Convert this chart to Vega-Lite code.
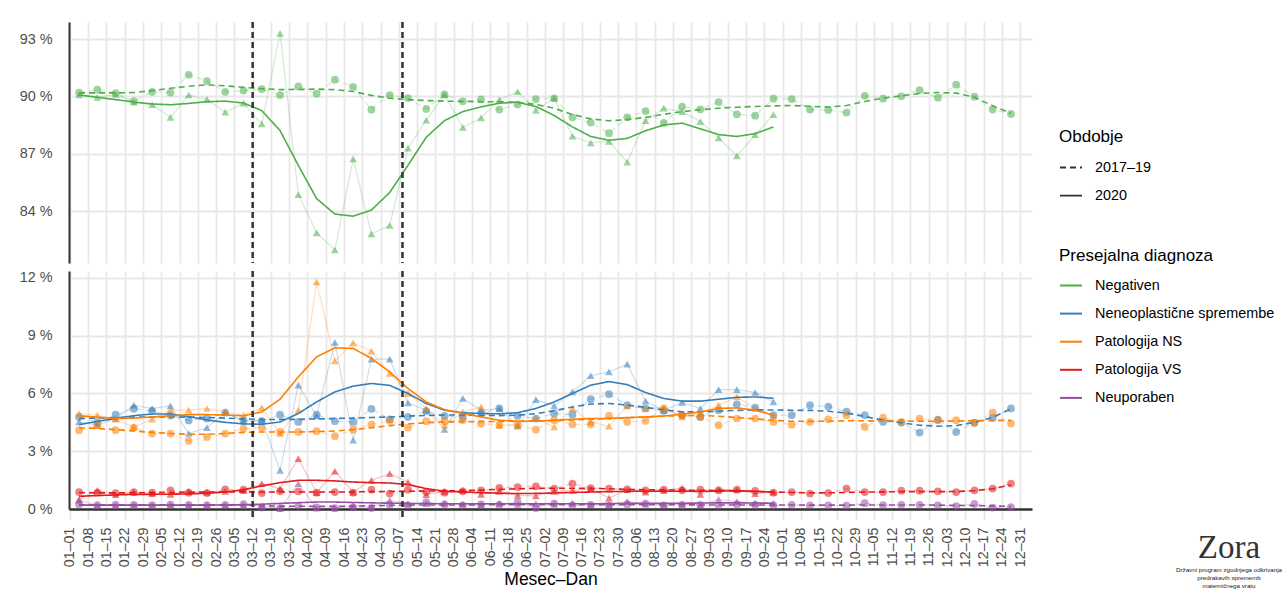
{
"$schema": "https://vega.github.io/schema/vega-lite/v6.json",
"background": "white",
"padding": {"left": 17, "top": 20, "right": 0, "bottom": 0},
"spacing": 8,
"bounds": "flush",
"title": {"text": "Zora", "subtitle": ["Državni program zgodnjega odkrivanja", "predrakavih sprememb", "materničnega vratu"], "orient": "bottom", "anchor": "start", "frame": "group", "align": "center", "dx": 1160, "offset": -56, "font": "Liberation Serif", "fontSize": 33, "fontWeight": "normal", "color": "#333333", "subtitleFont": "Liberation Sans", "subtitleFontSize": 6.2, "subtitleColor": "#222222", "subtitlePadding": 2, "subtitleLineHeight": 8},
"datasets": {"zora": [
{"c":"Negativen","p":"2017–19","w":0.5,"v":90.2,"s":90.18},
{"c":"Negativen","p":"2017–19","w":1.5,"v":90.35,"s":90.18},
{"c":"Negativen","p":"2017–19","w":2.5,"v":90.17,"s":90.18},
{"c":"Negativen","p":"2017–19","w":3.5,"v":89.75,"s":90.2},
{"c":"Negativen","p":"2017–19","w":4.5,"v":90.24,"s":90.3},
{"c":"Negativen","p":"2017–19","w":5.5,"v":90.2,"s":90.42},
{"c":"Negativen","p":"2017–19","w":6.5,"v":91.13,"s":90.53},
{"c":"Negativen","p":"2017–19","w":7.5,"v":90.8,"s":90.6},
{"c":"Negativen","p":"2017–19","w":8.5,"v":90.24,"s":90.55},
{"c":"Negativen","p":"2017–19","w":9.5,"v":90.3,"s":90.47},
{"c":"Negativen","p":"2017–19","w":10.5,"v":90.38,"s":90.4},
{"c":"Negativen","p":"2017–19","w":11.5,"v":90.07,"s":90.35},
{"c":"Negativen","p":"2017–19","w":12.5,"v":90.52,"s":90.36},
{"c":"Negativen","p":"2017–19","w":13.5,"v":90.14,"s":90.38},
{"c":"Negativen","p":"2017–19","w":14.5,"v":90.87,"s":90.35},
{"c":"Negativen","p":"2017–19","w":15.5,"v":90.5,"s":90.25},
{"c":"Negativen","p":"2017–19","w":16.5,"v":89.3,"s":90.05},
{"c":"Negativen","p":"2017–19","w":17.5,"v":90.07,"s":89.9},
{"c":"Negativen","p":"2017–19","w":18.5,"v":89.91,"s":89.83},
{"c":"Negativen","p":"2017–19","w":19.5,"v":89.34,"s":89.78},
{"c":"Negativen","p":"2017–19","w":20.5,"v":90.1,"s":89.75},
{"c":"Negativen","p":"2017–19","w":21.5,"v":89.74,"s":89.73},
{"c":"Negativen","p":"2017–19","w":22.5,"v":89.84,"s":89.72},
{"c":"Negativen","p":"2017–19","w":23.5,"v":89.31,"s":89.72},
{"c":"Negativen","p":"2017–19","w":24.5,"v":89.57,"s":89.69},
{"c":"Negativen","p":"2017–19","w":25.5,"v":89.86,"s":89.58},
{"c":"Negativen","p":"2017–19","w":26.5,"v":89.9,"s":89.38},
{"c":"Negativen","p":"2017–19","w":27.5,"v":88.9,"s":89.05},
{"c":"Negativen","p":"2017–19","w":28.5,"v":88.63,"s":88.82},
{"c":"Negativen","p":"2017–19","w":29.5,"v":88.07,"s":88.72},
{"c":"Negativen","p":"2017–19","w":30.5,"v":88.9,"s":88.78},
{"c":"Negativen","p":"2017–19","w":31.5,"v":89.23,"s":88.9},
{"c":"Negativen","p":"2017–19","w":32.5,"v":88.61,"s":89.06},
{"c":"Negativen","p":"2017–19","w":33.5,"v":89.46,"s":89.2},
{"c":"Negativen","p":"2017–19","w":34.5,"v":89.32,"s":89.3},
{"c":"Negativen","p":"2017–19","w":35.5,"v":89.7,"s":89.38},
{"c":"Negativen","p":"2017–19","w":36.5,"v":89.06,"s":89.43},
{"c":"Negativen","p":"2017–19","w":37.5,"v":88.99,"s":89.47},
{"c":"Negativen","p":"2017–19","w":38.5,"v":89.88,"s":89.5},
{"c":"Negativen","p":"2017–19","w":39.5,"v":89.86,"s":89.52},
{"c":"Negativen","p":"2017–19","w":40.5,"v":89.31,"s":89.48},
{"c":"Negativen","p":"2017–19","w":41.5,"v":89.29,"s":89.44},
{"c":"Negativen","p":"2017–19","w":42.5,"v":89.15,"s":89.52},
{"c":"Negativen","p":"2017–19","w":43.5,"v":90.03,"s":89.73},
{"c":"Negativen","p":"2017–19","w":44.5,"v":89.88,"s":89.91},
{"c":"Negativen","p":"2017–19","w":45.5,"v":90.0,"s":90.03},
{"c":"Negativen","p":"2017–19","w":46.5,"v":90.33,"s":90.15},
{"c":"Negativen","p":"2017–19","w":47.5,"v":89.93,"s":90.2},
{"c":"Negativen","p":"2017–19","w":48.5,"v":90.61,"s":90.17},
{"c":"Negativen","p":"2017–19","w":49.5,"v":89.98,"s":89.95},
{"c":"Negativen","p":"2017–19","w":50.5,"v":89.31,"s":89.51},
{"c":"Negativen","p":"2017–19","w":51.5,"v":89.08,"s":89.11},
{"c":"Negativen","p":"2020","w":0.5,"v":90.07,"s":90.07},
{"c":"Negativen","p":"2020","w":1.5,"v":89.95,"s":89.95},
{"c":"Negativen","p":"2020","w":2.5,"v":90.1,"s":89.83},
{"c":"Negativen","p":"2020","w":3.5,"v":89.69,"s":89.7},
{"c":"Negativen","p":"2020","w":4.5,"v":89.57,"s":89.6},
{"c":"Negativen","p":"2020","w":5.5,"v":88.9,"s":89.56},
{"c":"Negativen","p":"2020","w":6.5,"v":90.07,"s":89.63},
{"c":"Negativen","p":"2020","w":7.5,"v":89.84,"s":89.72},
{"c":"Negativen","p":"2020","w":8.5,"v":89.17,"s":89.75},
{"c":"Negativen","p":"2020","w":9.5,"v":89.64,"s":89.65},
{"c":"Negativen","p":"2020","w":10.5,"v":88.56,"s":89.25},
{"c":"Negativen","p":"2020","w":11.5,"v":93.3,"s":88.21},
{"c":"Negativen","p":"2020","w":12.5,"v":84.86,"s":86.39},
{"c":"Negativen","p":"2020","w":13.5,"v":82.86,"s":84.65},
{"c":"Negativen","p":"2020","w":14.5,"v":81.96,"s":83.84},
{"c":"Negativen","p":"2020","w":15.5,"v":86.73,"s":83.73},
{"c":"Negativen","p":"2020","w":16.5,"v":82.8,"s":84.05},
{"c":"Negativen","p":"2020","w":17.5,"v":83.25,"s":84.97},
{"c":"Negativen","p":"2020","w":18.5,"v":87.29,"s":86.39},
{"c":"Negativen","p":"2020","w":19.5,"v":88.75,"s":87.86},
{"c":"Negativen","p":"2020","w":20.5,"v":90.09,"s":88.73},
{"c":"Negativen","p":"2020","w":21.5,"v":88.37,"s":89.2},
{"c":"Negativen","p":"2020","w":22.5,"v":88.87,"s":89.45},
{"c":"Negativen","p":"2020","w":23.5,"v":89.83,"s":89.64},
{"c":"Negativen","p":"2020","w":24.5,"v":90.24,"s":89.69},
{"c":"Negativen","p":"2020","w":25.5,"v":89.27,"s":89.47},
{"c":"Negativen","p":"2020","w":26.5,"v":89.9,"s":89.0},
{"c":"Negativen","p":"2020","w":27.5,"v":87.92,"s":88.4},
{"c":"Negativen","p":"2020","w":28.5,"v":87.57,"s":87.9},
{"c":"Negativen","p":"2020","w":29.5,"v":87.64,"s":87.7},
{"c":"Negativen","p":"2020","w":30.5,"v":86.56,"s":87.8},
{"c":"Negativen","p":"2020","w":31.5,"v":88.73,"s":88.2},
{"c":"Negativen","p":"2020","w":32.5,"v":89.38,"s":88.5},
{"c":"Negativen","p":"2020","w":33.5,"v":89.2,"s":88.6},
{"c":"Negativen","p":"2020","w":34.5,"v":88.68,"s":88.3},
{"c":"Negativen","p":"2020","w":35.5,"v":87.83,"s":88.0},
{"c":"Negativen","p":"2020","w":36.5,"v":86.88,"s":87.9},
{"c":"Negativen","p":"2020","w":37.5,"v":87.99,"s":88.05},
{"c":"Negativen","p":"2020","w":38.5,"v":89.04,"s":88.4},
{"c":"Neneoplastične spremembe","p":"2017–19","w":0.5,"v":4.78,"s":4.7},
{"c":"Neneoplastične spremembe","p":"2017–19","w":1.5,"v":4.5,"s":4.72},
{"c":"Neneoplastične spremembe","p":"2017–19","w":2.5,"v":4.9,"s":4.75},
{"c":"Neneoplastične spremembe","p":"2017–19","w":3.5,"v":5.2,"s":4.77},
{"c":"Neneoplastične spremembe","p":"2017–19","w":4.5,"v":5.1,"s":4.78},
{"c":"Neneoplastične spremembe","p":"2017–19","w":5.5,"v":4.85,"s":4.78},
{"c":"Neneoplastične spremembe","p":"2017–19","w":6.5,"v":4.6,"s":4.77},
{"c":"Neneoplastične spremembe","p":"2017–19","w":7.5,"v":4.7,"s":4.75},
{"c":"Neneoplastične spremembe","p":"2017–19","w":8.5,"v":5.0,"s":4.72},
{"c":"Neneoplastične spremembe","p":"2017–19","w":9.5,"v":4.6,"s":4.68},
{"c":"Neneoplastične spremembe","p":"2017–19","w":10.5,"v":4.56,"s":4.65},
{"c":"Neneoplastične spremembe","p":"2017–19","w":11.5,"v":4.9,"s":4.65},
{"c":"Neneoplastične spremembe","p":"2017–19","w":12.5,"v":4.52,"s":4.66},
{"c":"Neneoplastične spremembe","p":"2017–19","w":13.5,"v":4.9,"s":4.68},
{"c":"Neneoplastične spremembe","p":"2017–19","w":14.5,"v":4.56,"s":4.7},
{"c":"Neneoplastične spremembe","p":"2017–19","w":15.5,"v":4.52,"s":4.72},
{"c":"Neneoplastične spremembe","p":"2017–19","w":16.5,"v":5.2,"s":4.75},
{"c":"Neneoplastične spremembe","p":"2017–19","w":17.5,"v":4.66,"s":4.78},
{"c":"Neneoplastične spremembe","p":"2017–19","w":18.5,"v":4.78,"s":4.82},
{"c":"Neneoplastične spremembe","p":"2017–19","w":19.5,"v":5.08,"s":4.86},
{"c":"Neneoplastične spremembe","p":"2017–19","w":20.5,"v":4.83,"s":4.88},
{"c":"Neneoplastične spremembe","p":"2017–19","w":21.5,"v":4.78,"s":4.88},
{"c":"Neneoplastične spremembe","p":"2017–19","w":22.5,"v":4.96,"s":4.86},
{"c":"Neneoplastične spremembe","p":"2017–19","w":23.5,"v":5.22,"s":4.85},
{"c":"Neneoplastične spremembe","p":"2017–19","w":24.5,"v":4.83,"s":4.87},
{"c":"Neneoplastične spremembe","p":"2017–19","w":25.5,"v":4.7,"s":4.95},
{"c":"Neneoplastične spremembe","p":"2017–19","w":26.5,"v":4.96,"s":5.1},
{"c":"Neneoplastične spremembe","p":"2017–19","w":27.5,"v":4.9,"s":5.3},
{"c":"Neneoplastične spremembe","p":"2017–19","w":28.5,"v":5.7,"s":5.45},
{"c":"Neneoplastične spremembe","p":"2017–19","w":29.5,"v":5.96,"s":5.48},
{"c":"Neneoplastične spremembe","p":"2017–19","w":30.5,"v":5.39,"s":5.4},
{"c":"Neneoplastične spremembe","p":"2017–19","w":31.5,"v":5.22,"s":5.28},
{"c":"Neneoplastične spremembe","p":"2017–19","w":32.5,"v":5.1,"s":5.15},
{"c":"Neneoplastične spremembe","p":"2017–19","w":33.5,"v":4.87,"s":5.05},
{"c":"Neneoplastične spremembe","p":"2017–19","w":34.5,"v":4.78,"s":5.04},
{"c":"Neneoplastične spremembe","p":"2017–19","w":35.5,"v":5.13,"s":5.08},
{"c":"Neneoplastične spremembe","p":"2017–19","w":36.5,"v":5.44,"s":5.12},
{"c":"Neneoplastične spremembe","p":"2017–19","w":37.5,"v":5.27,"s":5.15},
{"c":"Neneoplastične spremembe","p":"2017–19","w":38.5,"v":4.87,"s":5.14},
{"c":"Neneoplastične spremembe","p":"2017–19","w":39.5,"v":4.87,"s":5.13},
{"c":"Neneoplastične spremembe","p":"2017–19","w":40.5,"v":5.39,"s":5.12},
{"c":"Neneoplastične spremembe","p":"2017–19","w":41.5,"v":5.32,"s":5.08},
{"c":"Neneoplastične spremembe","p":"2017–19","w":42.5,"v":5.06,"s":4.98},
{"c":"Neneoplastične spremembe","p":"2017–19","w":43.5,"v":4.87,"s":4.8},
{"c":"Neneoplastične spremembe","p":"2017–19","w":44.5,"v":4.52,"s":4.62},
{"c":"Neneoplastične spremembe","p":"2017–19","w":45.5,"v":4.49,"s":4.48},
{"c":"Neneoplastične spremembe","p":"2017–19","w":46.5,"v":3.97,"s":4.35},
{"c":"Neneoplastične spremembe","p":"2017–19","w":47.5,"v":4.64,"s":4.3},
{"c":"Neneoplastične spremembe","p":"2017–19","w":48.5,"v":4.0,"s":4.33},
{"c":"Neneoplastične spremembe","p":"2017–19","w":49.5,"v":4.49,"s":4.5},
{"c":"Neneoplastične spremembe","p":"2017–19","w":50.5,"v":4.73,"s":4.76},
{"c":"Neneoplastične spremembe","p":"2017–19","w":51.5,"v":5.22,"s":5.2},
{"c":"Neneoplastične spremembe","p":"2020","w":0.5,"v":4.52,"s":4.38},
{"c":"Neneoplastične spremembe","p":"2020","w":1.5,"v":4.35,"s":4.55},
{"c":"Neneoplastične spremembe","p":"2020","w":2.5,"v":4.7,"s":4.7},
{"c":"Neneoplastične spremembe","p":"2020","w":3.5,"v":5.39,"s":4.85},
{"c":"Neneoplastične spremembe","p":"2020","w":4.5,"v":5.22,"s":4.93},
{"c":"Neneoplastične spremembe","p":"2020","w":5.5,"v":5.36,"s":4.93},
{"c":"Neneoplastične spremembe","p":"2020","w":6.5,"v":3.92,"s":4.8},
{"c":"Neneoplastične spremembe","p":"2020","w":7.5,"v":4.23,"s":4.62},
{"c":"Neneoplastične spremembe","p":"2020","w":8.5,"v":5.0,"s":4.5},
{"c":"Neneoplastične spremembe","p":"2020","w":9.5,"v":4.56,"s":4.42},
{"c":"Neneoplastične spremembe","p":"2020","w":10.5,"v":4.61,"s":4.4},
{"c":"Neneoplastične spremembe","p":"2020","w":11.5,"v":2.01,"s":4.52},
{"c":"Neneoplastične spremembe","p":"2020","w":12.5,"v":6.43,"s":4.96},
{"c":"Neneoplastične spremembe","p":"2020","w":13.5,"v":4.84,"s":5.56},
{"c":"Neneoplastične spremembe","p":"2020","w":14.5,"v":8.65,"s":6.08},
{"c":"Neneoplastične spremembe","p":"2020","w":15.5,"v":3.57,"s":6.38},
{"c":"Neneoplastične spremembe","p":"2020","w":16.5,"v":7.78,"s":6.52},
{"c":"Neneoplastične spremembe","p":"2020","w":17.5,"v":7.78,"s":6.42},
{"c":"Neneoplastične spremembe","p":"2020","w":18.5,"v":5.51,"s":6.0},
{"c":"Neneoplastične spremembe","p":"2020","w":19.5,"v":5.13,"s":5.48},
{"c":"Neneoplastične spremembe","p":"2020","w":20.5,"v":4.14,"s":5.13},
{"c":"Neneoplastične spremembe","p":"2020","w":21.5,"v":5.74,"s":5.0},
{"c":"Neneoplastične spremembe","p":"2020","w":22.5,"v":5.13,"s":4.96},
{"c":"Neneoplastične spremembe","p":"2020","w":23.5,"v":5.22,"s":4.94},
{"c":"Neneoplastične spremembe","p":"2020","w":24.5,"v":4.3,"s":5.0},
{"c":"Neneoplastične spremembe","p":"2020","w":25.5,"v":5.68,"s":5.22},
{"c":"Neneoplastične spremembe","p":"2020","w":26.5,"v":5.36,"s":5.56},
{"c":"Neneoplastične spremembe","p":"2020","w":27.5,"v":6.08,"s":6.0},
{"c":"Neneoplastične spremembe","p":"2020","w":28.5,"v":6.92,"s":6.43},
{"c":"Neneoplastične spremembe","p":"2020","w":29.5,"v":7.12,"s":6.62},
{"c":"Neneoplastične spremembe","p":"2020","w":30.5,"v":7.52,"s":6.46},
{"c":"Neneoplastične spremembe","p":"2020","w":31.5,"v":5.6,"s":6.05},
{"c":"Neneoplastične spremembe","p":"2020","w":32.5,"v":5.13,"s":5.74},
{"c":"Neneoplastične spremembe","p":"2020","w":33.5,"v":5.53,"s":5.6},
{"c":"Neneoplastične spremembe","p":"2020","w":34.5,"v":5.22,"s":5.6},
{"c":"Neneoplastične spremembe","p":"2020","w":35.5,"v":6.2,"s":5.7},
{"c":"Neneoplastične spremembe","p":"2020","w":36.5,"v":6.2,"s":5.8},
{"c":"Neneoplastične spremembe","p":"2020","w":37.5,"v":6.05,"s":5.82},
{"c":"Neneoplastične spremembe","p":"2020","w":38.5,"v":5.56,"s":5.75},
{"c":"Patologija NS","p":"2017–19","w":0.5,"v":4.09,"s":4.22},
{"c":"Patologija NS","p":"2017–19","w":1.5,"v":4.35,"s":4.18},
{"c":"Patologija NS","p":"2017–19","w":2.5,"v":4.09,"s":4.12},
{"c":"Patologija NS","p":"2017–19","w":3.5,"v":4.23,"s":4.05},
{"c":"Patologija NS","p":"2017–19","w":4.5,"v":3.92,"s":3.98},
{"c":"Patologija NS","p":"2017–19","w":5.5,"v":3.92,"s":3.92},
{"c":"Patologija NS","p":"2017–19","w":6.5,"v":3.54,"s":3.88},
{"c":"Patologija NS","p":"2017–19","w":7.5,"v":3.74,"s":3.88},
{"c":"Patologija NS","p":"2017–19","w":8.5,"v":3.92,"s":3.92},
{"c":"Patologija NS","p":"2017–19","w":9.5,"v":4.18,"s":3.98},
{"c":"Patologija NS","p":"2017–19","w":10.5,"v":4.23,"s":4.0},
{"c":"Patologija NS","p":"2017–19","w":11.5,"v":4.0,"s":4.0},
{"c":"Patologija NS","p":"2017–19","w":12.5,"v":4.0,"s":4.0},
{"c":"Patologija NS","p":"2017–19","w":13.5,"v":4.04,"s":4.02},
{"c":"Patologija NS","p":"2017–19","w":14.5,"v":3.78,"s":4.05},
{"c":"Patologija NS","p":"2017–19","w":15.5,"v":4.12,"s":4.12},
{"c":"Patologija NS","p":"2017–19","w":16.5,"v":4.4,"s":4.22},
{"c":"Patologija NS","p":"2017–19","w":17.5,"v":4.58,"s":4.33},
{"c":"Patologija NS","p":"2017–19","w":18.5,"v":4.23,"s":4.42},
{"c":"Patologija NS","p":"2017–19","w":19.5,"v":4.56,"s":4.48},
{"c":"Patologija NS","p":"2017–19","w":20.5,"v":4.56,"s":4.52},
{"c":"Patologija NS","p":"2017–19","w":21.5,"v":4.61,"s":4.53},
{"c":"Patologija NS","p":"2017–19","w":22.5,"v":4.44,"s":4.54},
{"c":"Patologija NS","p":"2017–19","w":23.5,"v":4.35,"s":4.55},
{"c":"Patologija NS","p":"2017–19","w":24.5,"v":4.35,"s":4.56},
{"c":"Patologija NS","p":"2017–19","w":25.5,"v":4.12,"s":4.57},
{"c":"Patologija NS","p":"2017–19","w":26.5,"v":4.61,"s":4.6},
{"c":"Patologija NS","p":"2017–19","w":27.5,"v":4.4,"s":4.62},
{"c":"Patologija NS","p":"2017–19","w":28.5,"v":4.4,"s":4.66},
{"c":"Patologija NS","p":"2017–19","w":29.5,"v":4.83,"s":4.7},
{"c":"Patologija NS","p":"2017–19","w":30.5,"v":4.52,"s":4.74},
{"c":"Patologija NS","p":"2017–19","w":31.5,"v":4.58,"s":4.78},
{"c":"Patologija NS","p":"2017–19","w":32.5,"v":5.22,"s":4.82},
{"c":"Patologija NS","p":"2017–19","w":33.5,"v":4.87,"s":4.85},
{"c":"Patologija NS","p":"2017–19","w":34.5,"v":4.78,"s":4.86},
{"c":"Patologija NS","p":"2017–19","w":35.5,"v":4.35,"s":4.82},
{"c":"Patologija NS","p":"2017–19","w":36.5,"v":4.7,"s":4.75},
{"c":"Patologija NS","p":"2017–19","w":37.5,"v":4.7,"s":4.68},
{"c":"Patologija NS","p":"2017–19","w":38.5,"v":4.52,"s":4.6},
{"c":"Patologija NS","p":"2017–19","w":39.5,"v":4.38,"s":4.56},
{"c":"Patologija NS","p":"2017–19","w":40.5,"v":4.52,"s":4.55},
{"c":"Patologija NS","p":"2017–19","w":41.5,"v":4.66,"s":4.56},
{"c":"Patologija NS","p":"2017–19","w":42.5,"v":4.87,"s":4.58},
{"c":"Patologija NS","p":"2017–19","w":43.5,"v":4.26,"s":4.58},
{"c":"Patologija NS","p":"2017–19","w":44.5,"v":4.75,"s":4.57},
{"c":"Patologija NS","p":"2017–19","w":45.5,"v":4.52,"s":4.56},
{"c":"Patologija NS","p":"2017–19","w":46.5,"v":4.7,"s":4.56},
{"c":"Patologija NS","p":"2017–19","w":47.5,"v":4.61,"s":4.56},
{"c":"Patologija NS","p":"2017–19","w":48.5,"v":4.61,"s":4.57},
{"c":"Patologija NS","p":"2017–19","w":49.5,"v":4.47,"s":4.58},
{"c":"Patologija NS","p":"2017–19","w":50.5,"v":5.0,"s":4.6},
{"c":"Patologija NS","p":"2017–19","w":51.5,"v":4.44,"s":4.6},
{"c":"Patologija NS","p":"2020","w":0.5,"v":4.96,"s":4.84},
{"c":"Patologija NS","p":"2020","w":1.5,"v":4.87,"s":4.77},
{"c":"Patologija NS","p":"2020","w":2.5,"v":4.66,"s":4.7},
{"c":"Patologija NS","p":"2020","w":3.5,"v":4.26,"s":4.72},
{"c":"Patologija NS","p":"2020","w":4.5,"v":4.66,"s":4.78},
{"c":"Patologija NS","p":"2020","w":5.5,"v":5.13,"s":4.84},
{"c":"Patologija NS","p":"2020","w":6.5,"v":5.13,"s":4.9},
{"c":"Patologija NS","p":"2020","w":7.5,"v":5.22,"s":4.9},
{"c":"Patologija NS","p":"2020","w":8.5,"v":5.04,"s":4.88},
{"c":"Patologija NS","p":"2020","w":9.5,"v":4.87,"s":4.84},
{"c":"Patologija NS","p":"2020","w":10.5,"v":5.27,"s":5.04},
{"c":"Patologija NS","p":"2020","w":11.5,"v":3.92,"s":5.7},
{"c":"Patologija NS","p":"2020","w":12.5,"v":5.13,"s":6.86},
{"c":"Patologija NS","p":"2020","w":13.5,"v":11.8,"s":7.9},
{"c":"Patologija NS","p":"2020","w":14.5,"v":7.69,"s":8.37},
{"c":"Patologija NS","p":"2020","w":15.5,"v":8.63,"s":8.34},
{"c":"Patologija NS","p":"2020","w":16.5,"v":8.2,"s":7.82},
{"c":"Patologija NS","p":"2020","w":17.5,"v":7.04,"s":7.12},
{"c":"Patologija NS","p":"2020","w":18.5,"v":6.0,"s":6.26},
{"c":"Patologija NS","p":"2020","w":19.5,"v":5.22,"s":5.56},
{"c":"Patologija NS","p":"2020","w":20.5,"v":4.35,"s":5.16},
{"c":"Patologija NS","p":"2020","w":21.5,"v":5.04,"s":4.96},
{"c":"Patologija NS","p":"2020","w":22.5,"v":5.3,"s":4.78},
{"c":"Patologija NS","p":"2020","w":23.5,"v":4.35,"s":4.61},
{"c":"Patologija NS","p":"2020","w":24.5,"v":4.38,"s":4.56},
{"c":"Patologija NS","p":"2020","w":25.5,"v":4.7,"s":4.56},
{"c":"Patologija NS","p":"2020","w":26.5,"v":4.26,"s":4.61},
{"c":"Patologija NS","p":"2020","w":27.5,"v":5.22,"s":4.66},
{"c":"Patologija NS","p":"2020","w":28.5,"v":4.52,"s":4.7},
{"c":"Patologija NS","p":"2020","w":29.5,"v":4.3,"s":4.7},
{"c":"Patologija NS","p":"2020","w":30.5,"v":5.36,"s":4.75},
{"c":"Patologija NS","p":"2020","w":31.5,"v":5.22,"s":4.78},
{"c":"Patologija NS","p":"2020","w":32.5,"v":5.27,"s":4.83},
{"c":"Patologija NS","p":"2020","w":33.5,"v":4.78,"s":4.92},
{"c":"Patologija NS","p":"2020","w":34.5,"v":4.96,"s":5.04},
{"c":"Patologija NS","p":"2020","w":35.5,"v":5.39,"s":5.22},
{"c":"Patologija NS","p":"2020","w":36.5,"v":5.82,"s":5.25},
{"c":"Patologija NS","p":"2020","w":37.5,"v":5.22,"s":5.13},
{"c":"Patologija NS","p":"2020","w":38.5,"v":4.87,"s":4.87},
{"c":"Patologija VS","p":"2017–19","w":0.5,"v":0.88,"s":0.85},
{"c":"Patologija VS","p":"2017–19","w":1.5,"v":0.85,"s":0.84},
{"c":"Patologija VS","p":"2017–19","w":2.5,"v":0.83,"s":0.84},
{"c":"Patologija VS","p":"2017–19","w":3.5,"v":0.88,"s":0.84},
{"c":"Patologija VS","p":"2017–19","w":4.5,"v":0.85,"s":0.85},
{"c":"Patologija VS","p":"2017–19","w":5.5,"v":0.97,"s":0.86},
{"c":"Patologija VS","p":"2017–19","w":6.5,"v":0.85,"s":0.87},
{"c":"Patologija VS","p":"2017–19","w":7.5,"v":0.83,"s":0.88},
{"c":"Patologija VS","p":"2017–19","w":8.5,"v":1.02,"s":0.89},
{"c":"Patologija VS","p":"2017–19","w":9.5,"v":1.0,"s":0.89},
{"c":"Patologija VS","p":"2017–19","w":10.5,"v":0.83,"s":0.88},
{"c":"Patologija VS","p":"2017–19","w":11.5,"v":0.92,"s":0.88},
{"c":"Patologija VS","p":"2017–19","w":12.5,"v":0.92,"s":0.88},
{"c":"Patologija VS","p":"2017–19","w":13.5,"v":0.85,"s":0.88},
{"c":"Patologija VS","p":"2017–19","w":14.5,"v":0.88,"s":0.88},
{"c":"Patologija VS","p":"2017–19","w":15.5,"v":0.85,"s":0.89},
{"c":"Patologija VS","p":"2017–19","w":16.5,"v":1.0,"s":0.9},
{"c":"Patologija VS","p":"2017–19","w":17.5,"v":0.8,"s":0.91},
{"c":"Patologija VS","p":"2017–19","w":18.5,"v":1.0,"s":0.92},
{"c":"Patologija VS","p":"2017–19","w":19.5,"v":0.88,"s":0.93},
{"c":"Patologija VS","p":"2017–19","w":20.5,"v":0.85,"s":0.94},
{"c":"Patologija VS","p":"2017–19","w":21.5,"v":0.92,"s":0.96},
{"c":"Patologija VS","p":"2017–19","w":22.5,"v":0.97,"s":0.98},
{"c":"Patologija VS","p":"2017–19","w":23.5,"v":1.1,"s":1.02},
{"c":"Patologija VS","p":"2017–19","w":24.5,"v":1.14,"s":1.05},
{"c":"Patologija VS","p":"2017–19","w":25.5,"v":1.18,"s":1.07},
{"c":"Patologija VS","p":"2017–19","w":26.5,"v":1.06,"s":1.08},
{"c":"Patologija VS","p":"2017–19","w":27.5,"v":1.32,"s":1.08},
{"c":"Patologija VS","p":"2017–19","w":28.5,"v":1.09,"s":1.07},
{"c":"Patologija VS","p":"2017–19","w":29.5,"v":1.06,"s":1.05},
{"c":"Patologija VS","p":"2017–19","w":30.5,"v":1.02,"s":1.02},
{"c":"Patologija VS","p":"2017–19","w":31.5,"v":0.97,"s":1.0},
{"c":"Patologija VS","p":"2017–19","w":32.5,"v":1.0,"s":0.99},
{"c":"Patologija VS","p":"2017–19","w":33.5,"v":0.97,"s":0.98},
{"c":"Patologija VS","p":"2017–19","w":34.5,"v":1.0,"s":0.97},
{"c":"Patologija VS","p":"2017–19","w":35.5,"v":0.97,"s":0.96},
{"c":"Patologija VS","p":"2017–19","w":36.5,"v":1.0,"s":0.94},
{"c":"Patologija VS","p":"2017–19","w":37.5,"v":0.94,"s":0.91},
{"c":"Patologija VS","p":"2017–19","w":38.5,"v":0.85,"s":0.88},
{"c":"Patologija VS","p":"2017–19","w":39.5,"v":0.88,"s":0.86},
{"c":"Patologija VS","p":"2017–19","w":40.5,"v":0.8,"s":0.84},
{"c":"Patologija VS","p":"2017–19","w":41.5,"v":0.83,"s":0.84},
{"c":"Patologija VS","p":"2017–19","w":42.5,"v":1.06,"s":0.86},
{"c":"Patologija VS","p":"2017–19","w":43.5,"v":0.88,"s":0.88},
{"c":"Patologija VS","p":"2017–19","w":44.5,"v":0.88,"s":0.89},
{"c":"Patologija VS","p":"2017–19","w":45.5,"v":0.95,"s":0.9},
{"c":"Patologija VS","p":"2017–19","w":46.5,"v":0.95,"s":0.9},
{"c":"Patologija VS","p":"2017–19","w":47.5,"v":0.92,"s":0.9},
{"c":"Patologija VS","p":"2017–19","w":48.5,"v":0.88,"s":0.91},
{"c":"Patologija VS","p":"2017–19","w":49.5,"v":0.97,"s":0.95},
{"c":"Patologija VS","p":"2017–19","w":50.5,"v":1.06,"s":1.05},
{"c":"Patologija VS","p":"2017–19","w":51.5,"v":1.32,"s":1.25},
{"c":"Patologija VS","p":"2020","w":0.5,"v":0.5,"s":0.66},
{"c":"Patologija VS","p":"2020","w":1.5,"v":0.97,"s":0.7},
{"c":"Patologija VS","p":"2020","w":2.5,"v":0.75,"s":0.73},
{"c":"Patologija VS","p":"2020","w":3.5,"v":0.88,"s":0.76},
{"c":"Patologija VS","p":"2020","w":4.5,"v":0.8,"s":0.76},
{"c":"Patologija VS","p":"2020","w":5.5,"v":0.76,"s":0.77},
{"c":"Patologija VS","p":"2020","w":6.5,"v":0.92,"s":0.78},
{"c":"Patologija VS","p":"2020","w":7.5,"v":0.88,"s":0.82},
{"c":"Patologija VS","p":"2020","w":8.5,"v":0.92,"s":0.88},
{"c":"Patologija VS","p":"2020","w":9.5,"v":0.97,"s":1.0},
{"c":"Patologija VS","p":"2020","w":10.5,"v":1.32,"s":1.2},
{"c":"Patologija VS","p":"2020","w":11.5,"v":1.06,"s":1.37},
{"c":"Patologija VS","p":"2020","w":12.5,"v":2.62,"s":1.49},
{"c":"Patologija VS","p":"2020","w":13.5,"v":0.85,"s":1.49},
{"c":"Patologija VS","p":"2020","w":14.5,"v":1.96,"s":1.46},
{"c":"Patologija VS","p":"2020","w":15.5,"v":0.88,"s":1.4},
{"c":"Patologija VS","p":"2020","w":16.5,"v":1.49,"s":1.37},
{"c":"Patologija VS","p":"2020","w":17.5,"v":1.84,"s":1.35},
{"c":"Patologija VS","p":"2020","w":18.5,"v":1.4,"s":1.27},
{"c":"Patologija VS","p":"2020","w":19.5,"v":0.75,"s":1.06},
{"c":"Patologija VS","p":"2020","w":20.5,"v":0.92,"s":0.92},
{"c":"Patologija VS","p":"2020","w":21.5,"v":0.97,"s":0.88},
{"c":"Patologija VS","p":"2020","w":22.5,"v":0.76,"s":0.85},
{"c":"Patologija VS","p":"2020","w":23.5,"v":0.92,"s":0.82},
{"c":"Patologija VS","p":"2020","w":24.5,"v":0.71,"s":0.8},
{"c":"Patologija VS","p":"2020","w":25.5,"v":0.68,"s":0.81},
{"c":"Patologija VS","p":"2020","w":26.5,"v":0.92,"s":0.83},
{"c":"Patologija VS","p":"2020","w":27.5,"v":0.97,"s":0.86},
{"c":"Patologija VS","p":"2020","w":28.5,"v":1.06,"s":0.88},
{"c":"Patologija VS","p":"2020","w":29.5,"v":0.57,"s":0.9},
{"c":"Patologija VS","p":"2020","w":30.5,"v":1.0,"s":0.92},
{"c":"Patologija VS","p":"2020","w":31.5,"v":0.88,"s":0.92},
{"c":"Patologija VS","p":"2020","w":32.5,"v":0.97,"s":0.92},
{"c":"Patologija VS","p":"2020","w":33.5,"v":1.09,"s":0.92},
{"c":"Patologija VS","p":"2020","w":34.5,"v":0.76,"s":0.92},
{"c":"Patologija VS","p":"2020","w":35.5,"v":1.02,"s":0.93},
{"c":"Patologija VS","p":"2020","w":36.5,"v":1.0,"s":0.94},
{"c":"Patologija VS","p":"2020","w":37.5,"v":0.8,"s":0.92},
{"c":"Patologija VS","p":"2020","w":38.5,"v":0.88,"s":0.88},
{"c":"Neuporaben","p":"2017–19","w":0.5,"v":0.23,"s":0.22},
{"c":"Neuporaben","p":"2017–19","w":1.5,"v":0.2,"s":0.22},
{"c":"Neuporaben","p":"2017–19","w":2.5,"v":0.23,"s":0.22},
{"c":"Neuporaben","p":"2017–19","w":3.5,"v":0.22,"s":0.22},
{"c":"Neuporaben","p":"2017–19","w":4.5,"v":0.2,"s":0.22},
{"c":"Neuporaben","p":"2017–19","w":5.5,"v":0.23,"s":0.22},
{"c":"Neuporaben","p":"2017–19","w":6.5,"v":0.22,"s":0.22},
{"c":"Neuporaben","p":"2017–19","w":7.5,"v":0.2,"s":0.22},
{"c":"Neuporaben","p":"2017–19","w":8.5,"v":0.22,"s":0.21},
{"c":"Neuporaben","p":"2017–19","w":9.5,"v":0.25,"s":0.2},
{"c":"Neuporaben","p":"2017–19","w":10.5,"v":0.07,"s":0.17},
{"c":"Neuporaben","p":"2017–19","w":11.5,"v":0.05,"s":0.15},
{"c":"Neuporaben","p":"2017–19","w":12.5,"v":0.16,"s":0.14},
{"c":"Neuporaben","p":"2017–19","w":13.5,"v":0.08,"s":0.14},
{"c":"Neuporaben","p":"2017–19","w":14.5,"v":0.05,"s":0.14},
{"c":"Neuporaben","p":"2017–19","w":15.5,"v":0.08,"s":0.15},
{"c":"Neuporaben","p":"2017–19","w":16.5,"v":0.05,"s":0.17},
{"c":"Neuporaben","p":"2017–19","w":17.5,"v":0.22,"s":0.19},
{"c":"Neuporaben","p":"2017–19","w":18.5,"v":0.19,"s":0.2},
{"c":"Neuporaben","p":"2017–19","w":19.5,"v":0.36,"s":0.21},
{"c":"Neuporaben","p":"2017–19","w":20.5,"v":0.24,"s":0.21},
{"c":"Neuporaben","p":"2017–19","w":21.5,"v":0.19,"s":0.21},
{"c":"Neuporaben","p":"2017–19","w":22.5,"v":0.24,"s":0.22},
{"c":"Neuporaben","p":"2017–19","w":23.5,"v":0.22,"s":0.22},
{"c":"Neuporaben","p":"2017–19","w":24.5,"v":0.36,"s":0.22},
{"c":"Neuporaben","p":"2017–19","w":25.5,"v":0.05,"s":0.22},
{"c":"Neuporaben","p":"2017–19","w":26.5,"v":0.28,"s":0.22},
{"c":"Neuporaben","p":"2017–19","w":27.5,"v":0.19,"s":0.22},
{"c":"Neuporaben","p":"2017–19","w":28.5,"v":0.22,"s":0.22},
{"c":"Neuporaben","p":"2017–19","w":29.5,"v":0.19,"s":0.22},
{"c":"Neuporaben","p":"2017–19","w":30.5,"v":0.24,"s":0.22},
{"c":"Neuporaben","p":"2017–19","w":31.5,"v":0.28,"s":0.22},
{"c":"Neuporaben","p":"2017–19","w":32.5,"v":0.19,"s":0.22},
{"c":"Neuporaben","p":"2017–19","w":33.5,"v":0.22,"s":0.22},
{"c":"Neuporaben","p":"2017–19","w":34.5,"v":0.22,"s":0.21},
{"c":"Neuporaben","p":"2017–19","w":35.5,"v":0.19,"s":0.21},
{"c":"Neuporaben","p":"2017–19","w":36.5,"v":0.24,"s":0.21},
{"c":"Neuporaben","p":"2017–19","w":37.5,"v":0.22,"s":0.21},
{"c":"Neuporaben","p":"2017–19","w":38.5,"v":0.19,"s":0.21},
{"c":"Neuporaben","p":"2017–19","w":39.5,"v":0.22,"s":0.21},
{"c":"Neuporaben","p":"2017–19","w":40.5,"v":0.19,"s":0.2},
{"c":"Neuporaben","p":"2017–19","w":41.5,"v":0.19,"s":0.2},
{"c":"Neuporaben","p":"2017–19","w":42.5,"v":0.17,"s":0.2},
{"c":"Neuporaben","p":"2017–19","w":43.5,"v":0.3,"s":0.21},
{"c":"Neuporaben","p":"2017–19","w":44.5,"v":0.2,"s":0.21},
{"c":"Neuporaben","p":"2017–19","w":45.5,"v":0.22,"s":0.21},
{"c":"Neuporaben","p":"2017–19","w":46.5,"v":0.22,"s":0.21},
{"c":"Neuporaben","p":"2017–19","w":47.5,"v":0.19,"s":0.2},
{"c":"Neuporaben","p":"2017–19","w":48.5,"v":0.15,"s":0.19},
{"c":"Neuporaben","p":"2017–19","w":49.5,"v":0.26,"s":0.18},
{"c":"Neuporaben","p":"2017–19","w":50.5,"v":0.07,"s":0.16},
{"c":"Neuporaben","p":"2017–19","w":51.5,"v":0.1,"s":0.13},
{"c":"Neuporaben","p":"2020","w":0.5,"v":0.45,"s":0.2},
{"c":"Neuporaben","p":"2020","w":1.5,"v":0.2,"s":0.2},
{"c":"Neuporaben","p":"2020","w":2.5,"v":0.2,"s":0.2},
{"c":"Neuporaben","p":"2020","w":3.5,"v":0.22,"s":0.2},
{"c":"Neuporaben","p":"2020","w":4.5,"v":0.2,"s":0.2},
{"c":"Neuporaben","p":"2020","w":5.5,"v":0.22,"s":0.2},
{"c":"Neuporaben","p":"2020","w":6.5,"v":0.2,"s":0.2},
{"c":"Neuporaben","p":"2020","w":7.5,"v":0.2,"s":0.2},
{"c":"Neuporaben","p":"2020","w":8.5,"v":0.22,"s":0.21},
{"c":"Neuporaben","p":"2020","w":9.5,"v":0.2,"s":0.22},
{"c":"Neuporaben","p":"2020","w":10.5,"v":0.16,"s":0.25},
{"c":"Neuporaben","p":"2020","w":11.5,"v":0.02,"s":0.29},
{"c":"Neuporaben","p":"2020","w":12.5,"v":1.32,"s":0.33},
{"c":"Neuporaben","p":"2020","w":13.5,"v":0.05,"s":0.36},
{"c":"Neuporaben","p":"2020","w":14.5,"v":0.05,"s":0.36},
{"c":"Neuporaben","p":"2020","w":15.5,"v":0.19,"s":0.34},
{"c":"Neuporaben","p":"2020","w":16.5,"v":0.1,"s":0.32},
{"c":"Neuporaben","p":"2020","w":17.5,"v":0.45,"s":0.3},
{"c":"Neuporaben","p":"2020","w":18.5,"v":0.28,"s":0.29},
{"c":"Neuporaben","p":"2020","w":19.5,"v":0.28,"s":0.28},
{"c":"Neuporaben","p":"2020","w":20.5,"v":0.3,"s":0.27},
{"c":"Neuporaben","p":"2020","w":21.5,"v":0.25,"s":0.27},
{"c":"Neuporaben","p":"2020","w":22.5,"v":0.22,"s":0.27},
{"c":"Neuporaben","p":"2020","w":23.5,"v":0.3,"s":0.27},
{"c":"Neuporaben","p":"2020","w":24.5,"v":0.22,"s":0.27},
{"c":"Neuporaben","p":"2020","w":25.5,"v":0.28,"s":0.27},
{"c":"Neuporaben","p":"2020","w":26.5,"v":0.25,"s":0.27},
{"c":"Neuporaben","p":"2020","w":27.5,"v":0.3,"s":0.27},
{"c":"Neuporaben","p":"2020","w":28.5,"v":0.22,"s":0.27},
{"c":"Neuporaben","p":"2020","w":29.5,"v":0.22,"s":0.28},
{"c":"Neuporaben","p":"2020","w":30.5,"v":0.4,"s":0.29},
{"c":"Neuporaben","p":"2020","w":31.5,"v":0.25,"s":0.29},
{"c":"Neuporaben","p":"2020","w":32.5,"v":0.22,"s":0.3},
{"c":"Neuporaben","p":"2020","w":33.5,"v":0.25,"s":0.3},
{"c":"Neuporaben","p":"2020","w":34.5,"v":0.2,"s":0.31},
{"c":"Neuporaben","p":"2020","w":35.5,"v":0.5,"s":0.32},
{"c":"Neuporaben","p":"2020","w":36.5,"v":0.38,"s":0.32},
{"c":"Neuporaben","p":"2020","w":37.5,"v":0.3,"s":0.31},
{"c":"Neuporaben","p":"2020","w":38.5,"v":0.3,"s":0.3}
]},
"config": {
  "font": "Liberation Sans",
  "view": {"stroke": null},
  "axis": {"labelFont": "Liberation Sans", "titleFont": "Liberation Sans", "labelColor": "#4d4d4d", "labelFontSize": 14.4, "gridColor": "#e8e8e8", "gridWidth": 1.8, "titleFontWeight": "normal", "titleColor": "#000000", "titleFontSize": 17.5},
  "legend": {"labelFont": "Liberation Sans", "titleFont": "Liberation Sans", "titleFontWeight": "normal", "titleFontSize": 17, "titleColor": "#000000", "labelFontSize": 14.4, "labelColor": "#000000", "padding": 0, "labelLimit": 0}
},
"vconcat": [
{
  "width": 963, "height": 241,
  "data": {"name": "zora"},
  "encoding": {"x": {"field": "w", "type": "quantitative", "scale": {"domain": [-0.05, 52.65], "nice": false, "zero": false},
     "axis": {"values": [0,1,2,3,4,5,6,7,8,9,10,11,12,13,14,15,16,17,18,19,20,21,22,23,24,25,26,27,28,29,30,31,32,33,34,35,36,37,38,39,40,41,42,43,44,45,46,47,48,49,50,51,52], "labels": false, "ticks": false, "domain": false, "title": null, "grid": true}}},
  "layer": [
    {"data": {"values": [{"g": 82.5}, {"g": 85.5}, {"g": 88.5}, {"g": 91.5}]},
     "mark": {"type": "rule", "color": "#ededed", "strokeWidth": 1.1},
     "encoding": {"y": {"field": "g", "type": "quantitative", "scale": {"domain": [81.28, 93.89], "nice": false, "zero": false}, "axis": {"values": [84, 87, 90, 93], "labelExpr": "datum.value + ' %'", "labelOverlap": false, "ticks": false, "tickSize": 0, "labelPadding": 17, "domainColor": "#333333", "domainWidth": 2, "minExtent": 52, "maxExtent": 52, "title": null}}}},
    {"transform": [{"filter": "datum.c == 'Negativen'"}],
     "mark": {"type": "line", "opacity": 0.25, "strokeWidth": 1.2},
     "encoding": {
       "y": {"field": "v", "type": "quantitative", "title": null},
       "color": {"field": "c", "type": "nominal", "scale": {"domain": ["Negativen","Neneoplastične spremembe","Patologija NS","Patologija VS","Neuporaben"], "range": ["#4DAF4A","#377EB8","#FF7F00","#E41A1C","#984EA3"]}, "legend": null},
       "strokeDash": {"field": "p", "type": "nominal", "scale": {"domain": ["2017–19","2020"], "range": [[6,4],[1,0]]}, "legend": null}
     }},
    {"transform": [{"filter": "datum.c == 'Negativen'"}],
     "mark": {"type": "point", "filled": true, "opacity": 0.55, "size": 60},
     "encoding": {
       "y": {"field": "v", "type": "quantitative", "title": null},
       "color": {"field": "c", "type": "nominal", "legend": null},
       "shape": {"field": "p", "type": "nominal", "scale": {"domain": ["2017–19","2020"], "range": ["circle","triangle-up"]}, "legend": null}
     }},
    {"transform": [{"filter": "datum.c == 'Negativen'"}],
     "mark": {"type": "line", "strokeWidth": 1.6},
     "encoding": {
       "y": {"field": "s", "type": "quantitative", "title": null},
       "color": {"field": "c", "type": "nominal", "legend": null},
       "strokeDash": {"field": "p", "type": "nominal", "legend": null}
     }},
    {"data": {"values": [{"w": 10}, {"w": 18.2}]},
     "mark": {"type": "rule", "strokeDash": [6,4], "color": "#333333", "strokeWidth": 2.5},
     "encoding": {}}
  ]
},
{
  "width": 963, "height": 238,
  "data": {"name": "zora"},
  "resolve": {"legend": {"color": "independent", "strokeDash": "independent", "shape": "independent"}},
  "encoding": {"x": {"field": "w", "type": "quantitative", "scale": {"domain": [-0.05, 52.65], "nice": false, "zero": false},
     "axis": {"values": [0,1,2,3,4,5,6,7,8,9,10,11,12,13,14,15,16,17,18,19,20,21,22,23,24,25,26,27,28,29,30,31,32,33,34,35,36,37,38,39,40,41,42,43,44,45,46,47,48,49,50,51,52],
       "labelExpr": "['01–01','01–08','01–15','01–22','01–29','02–05','02–12','02–19','02–26','03–05','03–12','03–19','03–26','04–02','04–09','04–16','04–23','04–30','05–07','05–14','05–21','05–28','06–04','06–11','06–18','06–25','07–02','07–09','07–16','07–23','07–30','08–06','08–13','08–20','08–27','09–03','09–10','09–17','09–24','10–01','10–08','10–15','10–22','10–29','11–05','11–12','11–19','11–26','12–03','12–10','12–17','12–24','12–31'][datum.value]",
       "labelAngle": 270, "labelAlign": "right", "labelBaseline": "middle", "labelFontSize": 14.3, "labelOverlap": false, "labelBound": false, "labelFlush": false,
       "tickSize": 10, "tickColor": "#e6e6e6", "tickWidth": 1.8, "labelPadding": 8,
       "domainColor": "#333333", "domainWidth": 2.5, "grid": true, "title": "Mesec–Dan", "titlePadding": 4}}},
  "layer": [
    {"data": {"values": [{"g": 1.5}, {"g": 4.5}, {"g": 7.5}, {"g": 10.5}]},
     "mark": {"type": "rule", "color": "#ededed", "strokeWidth": 1.1},
     "encoding": {"y": {"field": "g", "type": "quantitative", "scale": {"domain": [0, 12.36], "nice": false, "zero": false}, "axis": {"values": [0, 3, 6, 9, 12], "labelExpr": "datum.value + ' %'", "labelOverlap": false, "ticks": false, "tickSize": 0, "labelPadding": 17, "domainColor": "#333333", "domainWidth": 2, "minExtent": 52, "maxExtent": 52, "title": null}}}},
    {"transform": [{"filter": "datum.c != 'Negativen'"}],
     "mark": {"type": "line", "opacity": 0.25, "strokeWidth": 1.2},
     "encoding": {
       "y": {"field": "v", "type": "quantitative", "title": null},
       "color": {"field": "c", "type": "nominal", "legend": null},
       "strokeDash": {"field": "p", "type": "nominal", "legend": null}
     }},
    {"transform": [{"filter": "datum.c != 'Negativen'"}],
     "mark": {"type": "point", "filled": true, "opacity": 0.55, "size": 60},
     "encoding": {
       "y": {"field": "v", "type": "quantitative", "title": null},
       "color": {"field": "c", "type": "nominal", "legend": null},
       "shape": {"field": "p", "type": "nominal", "legend": null}
     }},
    {"transform": [{"filter": "datum.c != 'Negativen'"}],
     "mark": {"type": "line", "strokeWidth": 1.6},
     "encoding": {
       "y": {"field": "s", "type": "quantitative", "title": null},
       "color": {"field": "c", "type": "nominal", "legend": {"title": "Presejalna diagnoza", "orient": "none", "legendX": 990, "legendY": -23, "symbolType": "stroke", "symbolSize": 484, "symbolStrokeWidth": 2, "rowPadding": 9.1, "labelOffset": 12, "titlePadding": 8.5, "labelLimit": 0}},
       "strokeDash": {"field": "p", "type": "nominal", "legend": {"title": "Obdobje", "orient": "none", "legendX": 990, "legendY": -142, "symbolType": "stroke", "symbolSize": 484, "symbolStrokeWidth": 1.8, "symbolStrokeColor": "#333333", "rowPadding": 9.2, "labelOffset": 12, "titlePadding": 9.5}}
     }},
    {"data": {"values": [{"w": 10}, {"w": 18.2}]},
     "mark": {"type": "rule", "strokeDash": [6,4], "color": "#333333", "strokeWidth": 2.5},
     "encoding": {"y": {"datum": 12.36, "type": "quantitative"}, "y2": {"datum": -0.6}}}
  ]
}
]
}
